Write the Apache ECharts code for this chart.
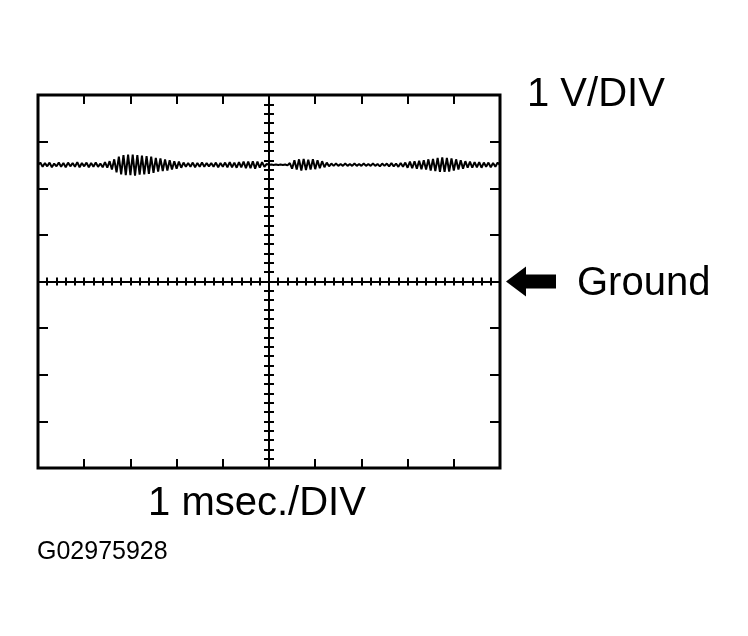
<!DOCTYPE html>
<html><head><meta charset="utf-8">
<script src="https://cdn.jsdelivr.net/npm/echarts@6/dist/echarts.min.js"></script>
<style>html,body{margin:0;padding:0;background:#fff}#c{width:748px;height:636px}</style>
</head><body><div id="c"></div>
<script>
// Time axis (ms), 10 divisions of 1 msec; voltage axis (V), 8 divisions of 1 V, ground at 0
const timeRange = [-5, 5];
const voltRange = [-4, 4];
const majorStep = 1;
const minorStep = 0.2;
const sampleStepMs = 0.05;
// Trace voltage samples, one every 0.05 ms
const volts = [
  2.50, 2.55, 2.46, 2.54, 2.47, 2.55, 2.45, 2.53, 2.47, 2.55,
  2.46, 2.54, 2.45, 2.55, 2.47, 2.54, 2.46, 2.56, 2.45, 2.54,
  2.47, 2.55, 2.45, 2.54, 2.46, 2.55, 2.46, 2.53, 2.45, 2.56,
  2.44, 2.58, 2.40, 2.62, 2.34, 2.68, 2.30, 2.71, 2.28, 2.72,
  2.28, 2.72, 2.27, 2.71, 2.29, 2.70, 2.30, 2.69, 2.31, 2.68,
  2.33, 2.65, 2.36, 2.64, 2.37, 2.62, 2.38, 2.60, 2.40, 2.58,
  2.42, 2.57, 2.44, 2.55, 2.46, 2.54, 2.46, 2.55, 2.45, 2.54,
  2.46, 2.55, 2.46, 2.54, 2.47, 2.54, 2.46, 2.55, 2.45, 2.54,
  2.46, 2.55, 2.45, 2.56, 2.45, 2.55, 2.44, 2.56, 2.45, 2.57,
  2.43, 2.57, 2.43, 2.58, 2.42, 2.57, 2.44, 2.56, 2.46, 2.52,
  2.50, 2.51, 2.50, 2.51, 2.50, 2.51, 2.50, 2.51, 2.49, 2.54,
  2.42, 2.60, 2.40, 2.62, 2.38, 2.63, 2.39, 2.61, 2.40, 2.62,
  2.41, 2.60, 2.43, 2.58, 2.45, 2.55, 2.47, 2.53, 2.48, 2.53,
  2.48, 2.52, 2.48, 2.53, 2.48, 2.52, 2.48, 2.53, 2.48, 2.52,
  2.48, 2.53, 2.48, 2.52, 2.48, 2.53, 2.48, 2.52, 2.47, 2.53,
  2.48, 2.53, 2.47, 2.54, 2.47, 2.53, 2.46, 2.54, 2.46, 2.55,
  2.44, 2.57, 2.43, 2.58, 2.42, 2.59, 2.41, 2.60, 2.40, 2.62,
  2.38, 2.63, 2.37, 2.65, 2.35, 2.66, 2.35, 2.65, 2.36, 2.64,
  2.38, 2.62, 2.40, 2.60, 2.42, 2.58, 2.44, 2.57, 2.44, 2.56,
  2.45, 2.56, 2.44, 2.55, 2.46, 2.55, 2.45, 2.54, 2.46, 2.55,
  2.50
];
const voltLabel = '1 V/DIV';
const timeLabel = '1 msec./DIV';
const groundLabel = 'Ground';
const figureCode = 'G02975928';

const trace = volts.map((v, i) => [+(timeRange[0] + i * sampleStepMs).toFixed(3), v]);

const FONT = '"Liberation Sans", Arial, sans-serif';
const noLabel = { show: false };
const noSplit = { show: false };

function borderX(pos) {
  return {
    type: 'value', min: timeRange[0], max: timeRange[1], interval: majorStep, position: pos,
    axisLine: { show: false, onZero: false },
    axisTick: { show: true, inside: true, length: 9, lineStyle: { color: '#000', width: 2 } },
    axisLabel: noLabel, splitLine: noSplit
  };
}
function borderY(pos) {
  return {
    type: 'value', min: voltRange[0], max: voltRange[1], interval: majorStep, position: pos,
    axisLine: { show: false, onZero: false },
    axisTick: { show: true, inside: true, length: 10, lineStyle: { color: '#000', width: 2 } },
    axisLabel: noLabel, splitLine: noSplit
  };
}
function centerX(inside) {
  return {
    type: 'value', min: timeRange[0], max: timeRange[1], interval: minorStep, position: 'bottom',
    axisLine: { show: true, onZero: true, onZeroAxisIndex: 0, lineStyle: { color: '#000', width: 2 } },
    axisTick: { show: true, inside: inside, length: 4, lineStyle: { color: '#000', width: 2 } },
    axisLabel: noLabel, splitLine: noSplit
  };
}
function centerY(inside) {
  return {
    type: 'value', min: voltRange[0], max: voltRange[1], interval: minorStep, position: 'left',
    axisLine: { show: true, onZero: true, onZeroAxisIndex: 0, lineStyle: { color: '#000', width: 2 } },
    axisTick: { show: true, inside: inside, length: 5, lineStyle: { color: '#000', width: 2 } },
    axisLabel: noLabel, splitLine: noSplit
  };
}

const chart = echarts.init(document.getElementById('c'), null, { renderer: 'canvas' });
chart.setOption({
  animation: false,
  backgroundColor: '#fff',
  grid: { left: 38, top: 95, width: 462, height: 373, show: true, borderColor: '#000', borderWidth: 3, backgroundColor: 'transparent' },
  xAxis: [borderX('bottom'), borderX('top'), centerX(true), centerX(false)],
  yAxis: [borderY('left'), borderY('right'), centerY(true), centerY(false)],
  series: [{
    type: 'line', xAxisIndex: 0, yAxisIndex: 0, data: trace,
    showSymbol: false, symbol: 'none', smooth: false,
    lineStyle: { color: '#000', width: 2 }, z: 5
  }]
});

const gy = chart.convertToPixel({ xAxisIndex: 0, yAxisIndex: 0 }, [timeRange[1], 0])[1];
const gx = chart.convertToPixel({ xAxisIndex: 0, yAxisIndex: 0 }, [timeRange[1], 0])[0];
const tip = gx + 6;
chart.setOption({
  graphic: [
    { type: 'polygon', shape: { points: [[tip, gy], [tip + 20, gy - 15], [tip + 20, gy - 7], [tip + 50, gy - 7], [tip + 50, gy + 7], [tip + 20, gy + 7], [tip + 20, gy + 15]] }, style: { fill: '#000' } },
    { type: 'text', x: tip + 71, y: gy + 2, style: { text: groundLabel, fill: '#000', font: '40px ' + FONT, verticalAlign: 'middle', align: 'left' } },
    { type: 'text', x: 527, y: 95, style: { text: voltLabel, fill: '#000', font: '40px ' + FONT, verticalAlign: 'middle', align: 'left' } },
    { type: 'text', x: 257, y: 504, style: { text: timeLabel, fill: '#000', font: '40px ' + FONT, verticalAlign: 'middle', align: 'center' } },
    { type: 'text', x: 37, y: 552, style: { text: figureCode, fill: '#000', font: '25px ' + FONT, verticalAlign: 'middle', align: 'left' } }
  ]
});
</script>
</body></html>
